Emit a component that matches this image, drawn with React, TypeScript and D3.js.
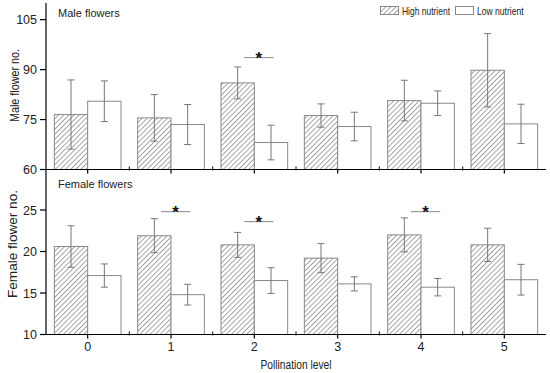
import React from 'react';
import * as d3 from 'd3';

// Pollination levels
const categories = [0, 1, 2, 3, 4, 5];

// Male flowers (mean, error)
const maleHigh = [76.5, 75.5, 86.0, 76.2, 80.7, 89.8];
const maleHighErr = [10.4, 7.0, 4.8, 3.5, 6.1, 11.0];
const maleLow = [80.5, 73.5, 68.1, 72.9, 79.9, 73.7];
const maleLowErr = [6.1, 6.0, 5.2, 4.3, 3.7, 5.9];

// Female flowers (mean, error)
const femaleHigh = [20.6, 21.9, 20.8, 19.2, 22.0, 20.8];
const femaleHighErr = [2.5, 2.05, 1.5, 1.75, 2.05, 2.0];
const femaleLow = [17.1, 14.8, 16.5, 16.1, 15.7, 16.6];
const femaleLowErr = [1.4, 1.25, 1.55, 0.85, 1.05, 1.85];

// significance markers: category + height of the bar line
const maleSig = [{ cat: 2, level: 93.6 }];
const femaleSig = [
  { cat: 1, level: 24.8 },
  { cat: 2, level: 23.6 },
  { cat: 4, level: 24.8 },
];

const maleTicks = [60, 75, 90, 105];
const femaleTicks = [10, 15, 20, 25];
const minorTicks = [0.5, 1.5, 2.5, 3.5, 4.5];

const W = 550;
const H = 373;
const FONT = '"Liberation Sans", Arial, sans-serif';
const BAR_W = 0.4;

const x = d3.scaleLinear().domain([-0.5, 5.5]).range([46, 546]);
const yMale = d3.scaleLinear().domain([60, 110]).range([169.5, 3]);
const yFemale = d3.scaleLinear().domain([10, 30]).range([334.5, 168.5]);

interface PanelProps {
  y: d3.ScaleLinear<number, number>;
  high: number[];
  highErr: number[];
  low: number[];
  lowErr: number[];
  sig: { cat: number; level: number }[];
  ticks: number[];
}

const Panel: React.FC<PanelProps> = ({ y, high, highErr, low, lowErr, sig, ticks }) => {
  const base = y.range()[0];
  const errBar = (cx: number, v: number, e: number, key: string) => (
    <g key={key} stroke="#777" strokeWidth={1}>
      <line x1={cx} x2={cx} y1={y(v + e)} y2={y(v - e)} />
      <line x1={cx - 3.5} x2={cx + 3.5} y1={y(v + e)} y2={y(v + e)} />
      <line x1={cx - 3.5} x2={cx + 3.5} y1={y(v - e)} y2={y(v - e)} />
    </g>
  );
  return (
    <g>
      {categories.map((c, i) => {
        const x0 = x(c - BAR_W);
        const x1 = x(c);
        const x2 = x(c + BAR_W);
        return (
          <g key={c}>
            <rect x={x0} y={y(high[i])} width={x1 - x0} height={base - y(high[i])}
              fill="url(#hatch)" stroke="#888" strokeWidth={1} />
            <rect x={x1} y={y(low[i])} width={x2 - x1} height={base - y(low[i])}
              fill="#fff" stroke="#888" strokeWidth={1} />
            {errBar((x0 + x1) / 2, high[i], highErr[i], 'h')}
            {errBar((x1 + x2) / 2, low[i], lowErr[i], 'l')}
          </g>
        );
      })}
      {sig.map((s) => (
        <g key={s.cat}>
          <line x1={x(s.cat - 0.12)} x2={x(s.cat + 0.23)} y1={y(s.level)} y2={y(s.level)}
            stroke="#888" strokeWidth={1} />
          <text x={x(s.cat + 0.055)} y={y(s.level) + 6} textAnchor="middle"
            fontSize={17} fontWeight="bold" fontFamily={FONT} fill="#111">*</text>
        </g>
      ))}
      {/* x axis */}
      <line x1={x(-0.5)} x2={x(5.5)} y1={base} y2={base} stroke="#000" strokeWidth={1.2} />
      {categories.map((c) => (
        <line key={c} x1={x(c)} x2={x(c)} y1={base} y2={base + 4} stroke="#000" strokeWidth={1.2} />
      ))}
      {minorTicks.map((c) => (
        <line key={c} x1={x(c)} x2={x(c)} y1={base - 3} y2={base + 1} stroke="#000" strokeWidth={1} />
      ))}
      {/* y ticks */}
      {ticks.map((t) => (
        <g key={t}>
          <line x1={40} x2={46} y1={y(t)} y2={y(t)} stroke="#000" strokeWidth={1.2} />
          <text x={37} y={y(t) + 4.5} textAnchor="end" fontSize={12.5} fontFamily={FONT} fill="#222">{t}</text>
        </g>
      ))}
    </g>
  );
};

const App: React.FC = () => {
  return (
    <svg width={W} height={H} style={{ position: 'absolute', left: 0, top: 0, background: '#fff' }}>
      <defs>
        <pattern id="hatch" patternUnits="userSpaceOnUse" width={3.6} height={3.6}
          patternTransform="rotate(45)">
          <rect width={3.6} height={3.6} fill="#fff" />
          <line x1={0} y1={0} x2={0} y2={3.6} stroke="#777" strokeWidth={1.3} />
        </pattern>
      </defs>

      <Panel y={yMale} high={maleHigh} highErr={maleHighErr} low={maleLow} lowErr={maleLowErr}
        sig={maleSig} ticks={maleTicks} />
      <Panel y={yFemale} high={femaleHigh} highErr={femaleHighErr} low={femaleLow} lowErr={femaleLowErr}
        sig={femaleSig} ticks={femaleTicks} />

      {/* shared y axis line */}
      <line x1={46} x2={46} y1={3} y2={334.5} stroke="#000" strokeWidth={1.2} />

      {/* x tick labels */}
      {categories.map((c) => (
        <text key={c} x={x(c)} y={351} textAnchor="middle" fontSize={12.5} fontFamily={FONT} fill="#222">{c}</text>
      ))}

      {/* titles */}
      <text x={260.5} y={369} fontSize={12} fontFamily={FONT} fill="#222"
        textLength={71} lengthAdjust="spacingAndGlyphs">Pollination level</text>
      <text transform="translate(19,122) rotate(-90)" fontSize={12} fontFamily={FONT} fill="#222"
        textLength={73} lengthAdjust="spacingAndGlyphs">Male flower no.</text>
      <text transform="translate(17,298) rotate(-90)" fontSize={13.5} fontFamily={FONT} fill="#222"
        textLength={108} lengthAdjust="spacingAndGlyphs">Female flower no.</text>
      <text x={58} y={17} fontSize={11} fontFamily={FONT} fill="#222">Male flowers</text>
      <text x={58} y={188} fontSize={11} fontFamily={FONT} fill="#222">Female flowers</text>

      {/* legend */}
      <rect x={380.5} y={6.5} width={18} height={8} fill="url(#hatch)" stroke="#888" />
      <text x={402} y={14.5} fontSize={10.5} fontFamily={FONT} fill="#222"
        textLength={48} lengthAdjust="spacingAndGlyphs">High nutrient</text>
      <rect x={455.5} y={6.5} width={18} height={8} fill="#fff" stroke="#888" />
      <text x={477} y={14.5} fontSize={10.5} fontFamily={FONT} fill="#222"
        textLength={46.5} lengthAdjust="spacingAndGlyphs">Low nutrient</text>
    </svg>
  );
};

export default App;
